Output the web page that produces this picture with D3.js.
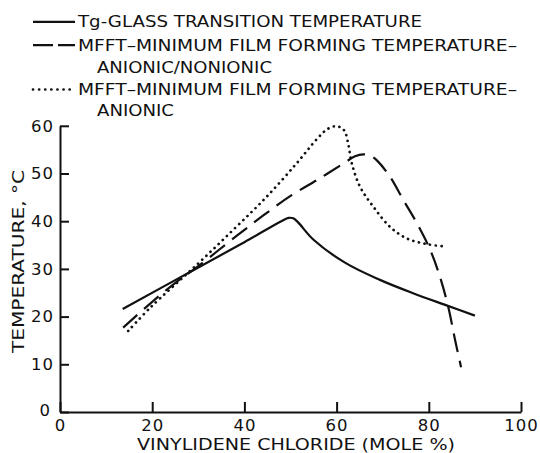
<!DOCTYPE html>
<html>
<head>
<meta charset="utf-8">
<script src="https://cdn.jsdelivr.net/npm/d3@7"></script>
<style>
    body { margin: 0; background: #fff; }
    svg text { font-family: "DejaVu Sans", sans-serif; fill: #111; }
</style>
</head>
<body>
<div id="graph-container"></div>
<script>
// values (x = vinylidene chloride mole %, y = temperature °C)
const tgData = [[13.6, 21.6], [30, 30.3], [40, 35.6], [48, 40], [49.6, 40.7], [50.6, 40.6],
    [51.6, 39.8], [55, 36.1], [62, 31.2], [69.4, 27.7], [76.6, 24.9], [84, 22.3], [90, 20.2]]
const mfftNonionicData = [[13.7, 17.7], [20, 23.1], [25.3, 27.3], [30, 30.6], [38.3, 36.9],
    [44.1, 41.2], [50, 45.3], [55.7, 48.6], [61.5, 52.1], [64, 53.6], [65.8, 54], [67.4, 53.7],
    [68.9, 52.6], [71.6, 49.3], [74.5, 44.4], [77.4, 39.6], [80.3, 34], [82.4, 28.4],
    [84.2, 22.1], [85.7, 15.1], [87, 9.4]]
const mfftAnionicData = [[14.8, 17], [19.5, 21.8], [29.6, 30.8], [37.6, 38.2], [44.8, 45.1],
    [51.3, 52.1], [55.7, 57.2], [58, 59.3], [59.7, 59.9], [61, 59.6], [61.8, 58.8], [62.5, 56.3],
    [63.3, 52.1], [65.1, 47.2], [68, 43], [71.6, 38.8], [75.2, 36.4], [79.5, 35.2], [83.5, 34.7]]

const xTicks = [0, 20, 40, 60, 80, 100]
const yTicks = [0, 10, 20, 30, 40, 50, 60]

const legendLines = [
    ["Tg-GLASS TRANSITION TEMPERATURE"],
    ["MFFT–MINIMUM FILM FORMING TEMPERATURE–", "ANIONIC/NONIONIC"],
    ["MFFT–MINIMUM FILM FORMING TEMPERATURE–", "ANIONIC"]
]
const xAxisTitle = "VINYLIDENE CHLORIDE (MOLE %)"
const yAxisTitle = "TEMPERATURE, °C"

const WIDTH = 540
const HEIGHT = 453

var svg = d3.select("#graph-container")
    .append("svg")
    .attr("width", WIDTH)
    .attr("height", HEIGHT)

var xscale = d3.scaleLinear().domain([0, 100]).range([60, 521])
var yscale = d3.scaleLinear().domain([0, 60]).range([412, 125.8])

// axes: ticks point inward, no outer ticks
var x_axis = d3.axisBottom(xscale)
    .tickValues(xTicks)
    .tickSizeInner(-10)
    .tickSizeOuter(0)
    .tickPadding(7)
var y_axis = d3.axisLeft(yscale)
    .tickValues(yTicks)
    .tickSizeInner(-9)
    .tickSizeOuter(0)
    .tickPadding(6)

function styleAxis(g) {
    g.select(".domain").attr("stroke", "#111").attr("stroke-width", 2)
    g.selectAll(".tick line").attr("stroke", "#111").attr("stroke-width", 2)
    g.selectAll(".tick text")
        .attr("fill", "#111")
        .style("font-size", "16.5px")
        .style("letter-spacing", "1px")
        .attr("font-family", null)
}

svg.append("g")
    .attr("transform", "translate(0," + yscale(0) + ")")
    .call(x_axis)
    .call(styleAxis)

svg.append("g")
    .attr("transform", "translate(" + xscale(0) + ",0)")
    .call(y_axis)
    .call(styleAxis)
    .call(g => g.selectAll(".tick text").filter(d => d === 0)
        .attr("x", -9).attr("y", -2))

// axis titles
svg.append("text")
    .attr("x", 137)
    .attr("y", 449.5)
    .attr("textLength", 318)
    .attr("lengthAdjust", "spacingAndGlyphs")
    .style("font-size", "15px")
    .text(xAxisTitle)

svg.append("text")
    .attr("transform", "translate(24,261.5) rotate(-90)")
    .attr("text-anchor", "middle")
    .attr("textLength", 183)
    .attr("lengthAdjust", "spacingAndGlyphs")
    .style("font-size", "16px")
    .text(yAxisTitle)

// curves
var line = d3.line()
    .x(d => xscale(d[0]))
    .y(d => yscale(d[1]))
    .curve(d3.curveCatmullRom.alpha(0.5))

function addCurve(data, dash, cap, width) {
    svg.append("path")
        .datum(data)
        .attr("d", line)
        .attr("fill", "none")
        .attr("stroke", "#111")
        .attr("stroke-width", width)
        .attr("stroke-dasharray", dash)
        .attr("stroke-linecap", cap)
}

addCurve(tgData, null, "butt", 2.2)
addCurve(mfftNonionicData, "19,9", "butt", 2.2)
addCurve(mfftAnionicData, "0.1,5.6", "round", 2.7)

// legend
const legendDash = [null, "20,5", "0.1,6"]
const legendRowY = [[27.3], [50.7, 72.7], [95, 115.7]]
const legendRowWidth = [[344], [439, 175], [439, 77]]

legendLines.forEach(function (rows, i) {
    var symY = legendRowY[i][0] - 5.5
    svg.append("line")
        .attr("x1", 33)
        .attr("x2", 75)
        .attr("y1", symY)
        .attr("y2", symY)
        .attr("stroke", "#111")
        .attr("stroke-width", i === 2 ? 2.7 : 2.2)
        .attr("stroke-dasharray", legendDash[i])
        .attr("stroke-linecap", i === 2 ? "round" : "butt")
    rows.forEach(function (txt, j) {
        svg.append("text")
            .attr("x", j === 0 ? 78 : 97)
            .attr("y", legendRowY[i][j])
            .attr("textLength", legendRowWidth[i][j])
            .attr("lengthAdjust", "spacingAndGlyphs")
            .style("font-size", "16px")
            .text(txt)
    })
})
</script>
</body>
</html>
